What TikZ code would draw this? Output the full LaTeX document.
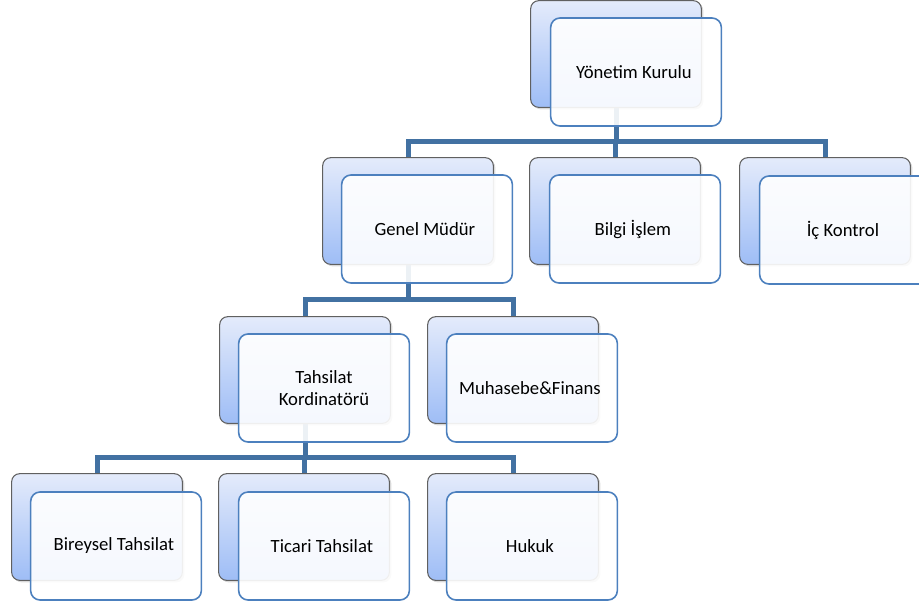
\documentclass[tikz,border=0pt]{standalone}
\usepackage{fontspec}
\setmainfont{Carlito}
\usetikzlibrary{calc,shadows,backgrounds}
\definecolor{linkblue}{RGB}{66,113,162}
\definecolor{edgeblue}{RGB}{76,128,190}
\definecolor{backtop}{RGB}{228,235,251}
\definecolor{backbot}{RGB}{158,189,246}
\begin{document}
\begin{tikzpicture}[x = 0.75pt, y = -0.75pt,
  every node/.append style={font = \fontsize{14}{16.5}\selectfont, align = center},
  backbox/.style={rectangle, rounded corners = 6pt, draw = gray!75!black, line width = 0.8pt,
    top color = backtop, bottom color = backbot, minimum width = 128pt, minimum height = 80pt,
    drop shadow={opacity = 0.3, shadow xshift = 1.5pt, shadow yshift = -1.5pt}},
  frontbox/.style={rectangle, rounded corners = 7pt, draw = edgeblue, line width = 1.2pt,
    fill = white, fill opacity = 0.9, text opacity = 1, minimum width = 128pt, minimum height = 81pt},
  link/.style={draw = linkblue, line width = 3.75pt}]

  \useasboundingbox (0, 0) rectangle (919, 604);

  % board
  \node [backbox]  (ykBack) at (616, 54) {};
  \node [frontbox] (yk)     at (636, 72) { Yönetim Kurulu };

  % second row
  \node [backbox]  (gmBack) at (408, 211) {};
  \node [frontbox] (gm)     at (427, 229) { Genel Müdür };
  \node [backbox]  (biBack) at (615, 211) {};
  \node [frontbox] (bi)     at (635, 229) { Bilgi İşlem };
  \node [backbox]  (ikBack) at (825, 211) {};
  \node [frontbox] (ik)     at (845, 230) { İç Kontrol };

  % third row
  \node [backbox]  (tkBack) at (305, 370) {};
  \node [frontbox] (tk)     at (324, 388) { Tahsilat\\Kordinatörü };
  \node [backbox]  (mfBack) at (513, 370) {};
  \node [frontbox] (mf)     at (532, 388) { Muhasebe\&Finans };

  % fourth row
  \node [backbox]  (btBack) at (97, 527) {};
  \node [frontbox] (bt)     at (116, 546) { Bireysel Tahsilat };
  \node [backbox]  (ttBack) at (304, 527) {};
  \node [frontbox] (tt)     at (324, 546) { Ticari Tahsilat };
  \node [backbox]  (hkBack) at (513, 527) {};
  \node [frontbox] (hk)     at (532, 546) { Hukuk };

  \coordinate (bar1) at ($(yk.south)!0.5!(gmBack.north)$);
  \coordinate (bar2) at ($(gm.south)!0.5!(tkBack.north)$);
  \coordinate (bar3) at ($(tk.south)!0.5!(btBack.north)$);

  \begin{scope}[on background layer]
    \foreach \child in {gmBack, biBack, ikBack}
      \draw [link] (ykBack.center) -- (ykBack.center |- bar1) -| (\child.north);
    \foreach \child in {tkBack, mfBack}
      \draw [link] (gmBack.center) -- (gmBack.center |- bar2) -| (\child.north);
    \foreach \child in {btBack, ttBack, hkBack}
      \draw [link] (tkBack.center) -- (tkBack.center |- bar3) -| (\child.north);
  \end{scope}

\end{tikzpicture}
\end{document}
